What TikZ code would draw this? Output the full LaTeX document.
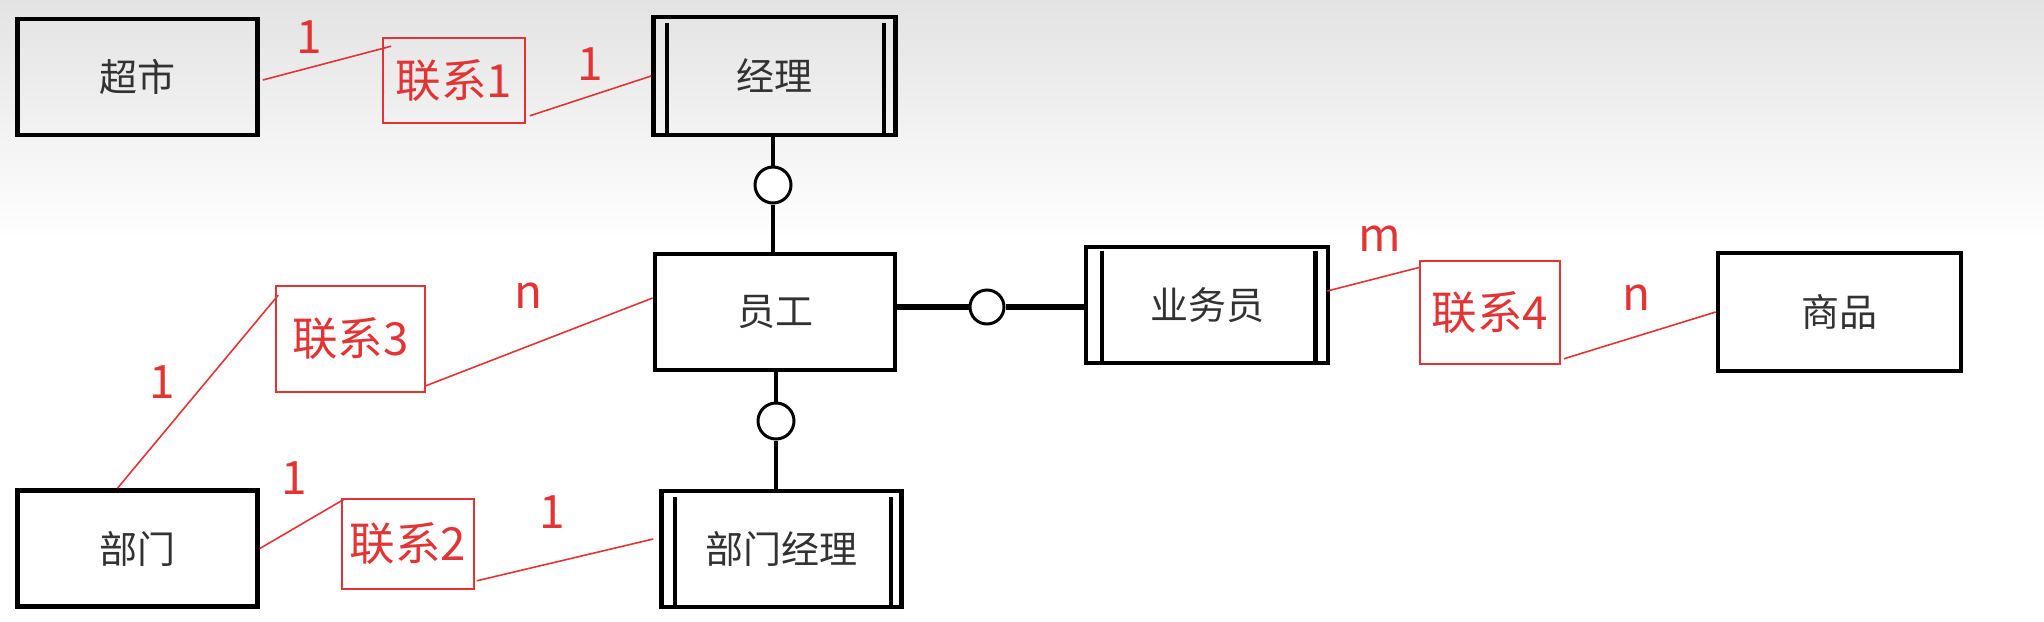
\documentclass[tikz,border=0pt]{standalone}
\usepackage{fontspec}
\newfontfamily\cjk{Noto Sans CJK SC}
\usetikzlibrary{calc}
\definecolor{redc}{RGB}{226,52,52}
\definecolor{txtc}{RGB}{50,50,50}
\begin{document}
\begin{tikzpicture}[x=0.5pt,y=-0.5pt,
  ent/.style={draw, line width=2.3pt, minimum width=120pt, minimum height=58pt, inner sep=0pt,
    font=\cjk\fontsize{19}{19}\selectfont, text=txtc},
  rel/.style={draw=redc, line width=0.8pt, inner sep=0pt, text=redc,
    font=\cjk\fontsize{22.8}{22.8}\selectfont},
  card/.style={text=redc, inner sep=0pt, font=\cjk\fontsize{23}{23}\selectfont},
  rline/.style={draw=redc, line width=0.8pt},
  ring/.style={circle, draw, line width=1.5pt, minimum size=18pt, inner sep=0pt, fill=white},
  inner/.style={line width=2.2pt},
  conn/.style={line width=1.75pt}]
\fill[white] (0,0) rectangle (2044,621);
\shade[top color=gray!22, bottom color=white] (0,0) rectangle (2044,240);
\useasboundingbox (0,0) rectangle (2044,621);

% entities
\node[ent] (cs) at (137.5,77) {超市};
\node[ent, minimum width=121pt, minimum height=59pt] (jl) at (774.5,76) {经理};
\node[ent] (yg) at (775,312) {员工};
\node[ent, minimum width=121pt] (ywy) at (1207,305) {业务员};
\node[ent, minimum width=121.5pt, minimum height=59pt] (sp) at (1839.5,312) {商品};
\node[ent] (bm) at (137.5,548.5) {部门};
\node[ent] (bmjl) at (781.5,549) {部门经理};

% weak entity inner lines
\draw[inner] ($(jl.north west)+(16,8)$) -- ($(jl.south west)+(16,0)$);
\draw[inner] ($(jl.north east)+(-14,8)$) -- ($(jl.south east)+(-14,0)$);
\draw[inner] ($(ywy.north west)+(18,6)$) -- ($(ywy.south west)+(18,0)$);
\draw[inner] ($(ywy.north east)+(-15,6)$) -- ($(ywy.south east)+(-15,0)$);
\draw[inner] ($(bmjl.north west)+(16,8)$) -- ($(bmjl.south west)+(16,0)$);
\draw[inner] ($(bmjl.north east)+(-13,8)$) -- ($(bmjl.south east)+(-13,0)$);

% circles and connectors
\node[ring] (c1) at (773,185) {};
\draw[conn] (jl.south -| c1) -- (c1.north);
\draw[conn] (c1.south) -- (yg.north -| c1);
\node[ring, minimum size=17pt] (c2) at (987,307) {};
\draw[line width=2.6pt] (yg.east |- c2) -- (c2.west);
\draw[line width=2.6pt] (c2.east) -- (ywy.west |- c2);
\node[ring] (c3) at (776,421) {};
\draw[conn] (yg.south -| c3) -- (c3.north);
\draw[conn] (c3.south) -- (bmjl.north -| c3);

% relationships
\node[rel, minimum width=71pt, minimum height=42.5pt] (r1) at (454,80.5) {联系1};
\node[rel, minimum width=74.5pt, minimum height=53pt] (r3) at (350.5,339) {联系3};
\node[rel, minimum width=66pt, minimum height=45pt] (r2) at (408,544) {联系2};
\node[rel, minimum width=70pt, minimum height=51.5pt] (r4) at (1490,312.5) {联系4};

% red lines
\draw[rline] ($(cs.east)+(3,3)$) -- ($(r1.north west)+(9,9)$);
\draw[rline] ($(r1.south east)+(4,-8)$) -- (jl.west);
\draw[rline] ($(bm.north)+(-20,0)$) -- ($(r3.north west)+(3,10)$);
\draw[rline] ($(r3.south east)+(0,-7)$) -- ($(yg.west)+(0,-14)$);
\draw[rline] (bm.east) -- ($(r2.north west)+(3,1)$);
\draw[rline] ($(r2.south east)+(2,-9)$) -- ($(bmjl.west)+(-6,-10)$);
\draw[rline] ($(ywy.east)+(-3,-14)$) -- ($(r4.north west)+(1,7)$);
\draw[rline] ($(r4.south east)+(3,-6)$) -- (sp.west);

% cardinalities
\node[card] (k1) at (309,37) {1};
\node[card] (k2) at (590,64) {1};
\node[card] (k3) at (529,296) {n};
\node[card] (k4) at (162,382) {1};
\node[card] (k5) at (294,478) {1};
\node[card] (k6) at (552,512) {1};
\node[card] (k7) at (1380,239) {m};
\node[card] (k8) at (1637,298) {n};
\end{tikzpicture}
\end{document}
